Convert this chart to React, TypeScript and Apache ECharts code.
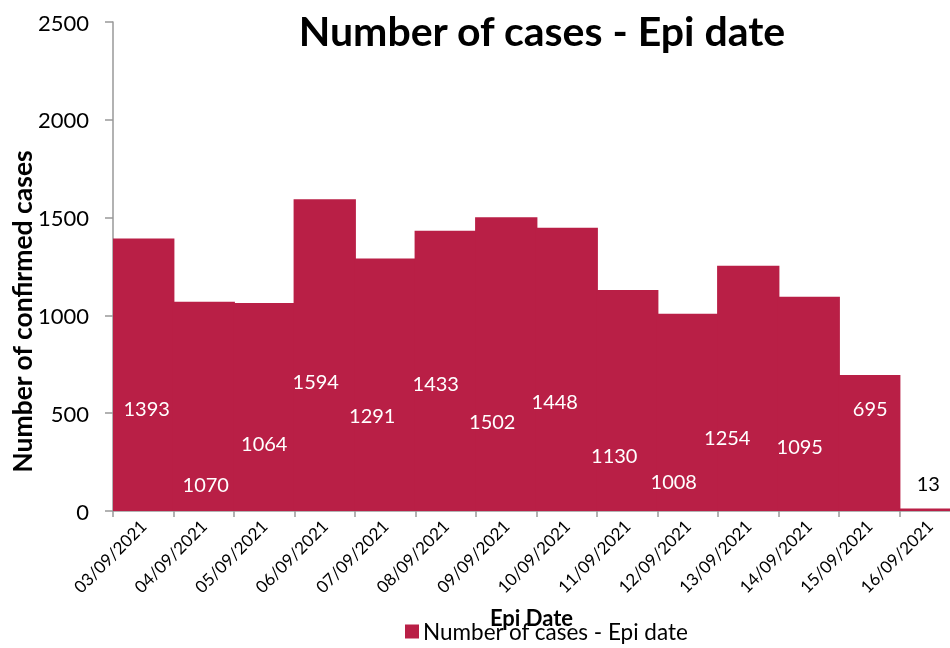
import React, { useEffect, useRef } from "react";
import * as echarts from "echarts";

const categories = [
  "03/09/2021", "04/09/2021", "05/09/2021", "06/09/2021", "07/09/2021",
  "08/09/2021", "09/09/2021", "10/09/2021", "11/09/2021", "12/09/2021",
  "13/09/2021", "14/09/2021", "15/09/2021", "16/09/2021",
];
const cases = [1393, 1070, 1064, 1594, 1291, 1433, 1502, 1448, 1130, 1008, 1254, 1095, 695, 13];

// label offsets relative to bar centre (style only)
const labelOffsets = [
  [3, 33], [2, 78], [0, 36], [-9, 26], [-13, 30], [-10, 12], [-14, 57],
  [-12, 32], [-13, 55], [-14, 69], [-21, 49], [-9, 42], [1, -35], [-1, -27],
];

const FONT = "Lato";
const BAR = "#B91F46";

export default function App() {
  const ref = useRef<HTMLDivElement>(null);
  useEffect(() => {
    if (!ref.current) return;
    const chart = echarts.init(ref.current, null, { renderer: "svg" });
    chart.setOption({
      animation: false,
      textStyle: { fontFamily: FONT },
      title: {
        text: "Number of cases - Epi date",
        left: 537,
        top: 5,
        textAlign: "center",
        textStyle: { fontFamily: FONT, fontSize: 41, fontWeight: "bold", color: "#000" },
      },
      legend: {
        bottom: 0,
        left: 400,
        itemWidth: 14,
        itemHeight: 14,
        itemGap: 4,
        icon: "rect",
        textStyle: { fontFamily: FONT, fontSize: 22.5, color: "#000", padding: [0, 0, 0, -1] },
        data: ["Number of cases - Epi date"],
      },
      grid: { left: 113, top: 22, bottom: 137, right: -10, containLabel: false, outerBoundsMode: "none" },
      xAxis: {
        type: "category",
        data: categories,
        boundaryGap: true,
        name: "Epi Date",
        nameLocation: "middle",
        nameGap: 95,
        nameMoveOverlap: false,
        nameTextStyle: { fontFamily: FONT, fontSize: 22, fontWeight: "bold", color: "#000", padding: [0, 0, 0, -10] },
        axisLine: { lineStyle: { color: "#999", width: 1.5 } },
        axisTick: { show: true, length: 6, alignWithLabel: false, lineStyle: { color: "#999", width: 1.5 } },
        axisLabel: { rotate: 45, fontFamily: FONT, fontSize: 17, color: "#000", margin: 12, interval: 0 },
        splitLine: { show: false },
      },
      yAxis: {
        type: "value",
        min: 0,
        max: 2500,
        interval: 500,
        name: "Number of confirmed cases",
        nameLocation: "middle",
        nameGap: 78,
        nameMoveOverlap: false,
        nameRotate: 90,
        nameTextStyle: { fontFamily: FONT, fontSize: 26.5, fontWeight: "bold", color: "#000", padding: [0, 90, 0, 0] },
        axisLine: { show: true, lineStyle: { color: "#999", width: 1.5 } },
        axisTick: { show: true, length: 8, lineStyle: { color: "#999", width: 1.5 } },
        axisLabel: { fontFamily: FONT, fontSize: 22, color: "#000", margin: 24, formatter: (v: number) => String(v) },
        splitLine: { show: false },
      },
      series: [
        {
          name: "Number of cases - Epi date",
          type: "bar",
          barWidth: "103%",
          barCategoryGap: "0%",
          itemStyle: { color: BAR },
          data: cases.map((v, i) => ({
            value: v,
            label: {
              show: true,
              position: "inside",
              offset: labelOffsets[i],
              color: v < 100 ? "#000" : "#fff",
              fontFamily: FONT,
              fontSize: 20,
            },
          })),
        },
      ],
    });
    return () => chart.dispose();
  }, []);
  return <div ref={ref} style={{ width: 950, height: 648, position: "fixed", left: 0, top: 0 }} />;
}
